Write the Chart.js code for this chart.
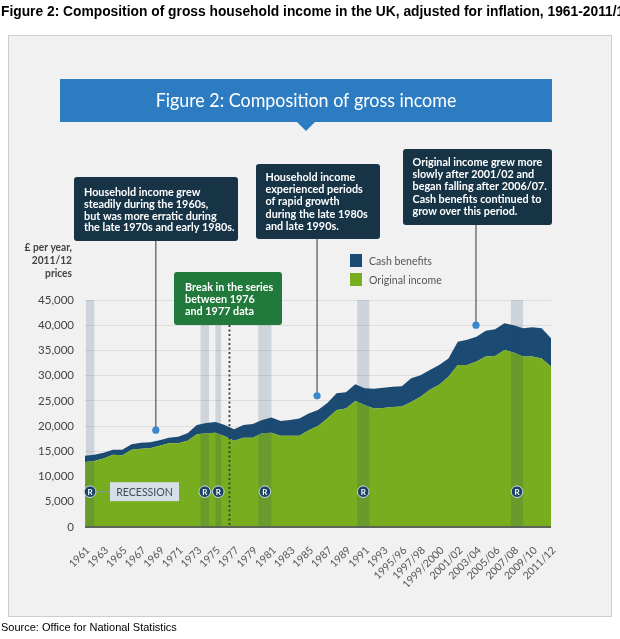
<!DOCTYPE html>
<html>
<head>
<meta charset="utf-8">
<script src="https://cdn.jsdelivr.net/npm/chart.js@4/dist/chart.umd.min.js"></script>
<style>
    body { margin: 0; background: #fff; }
    #wrap { position: relative; width: 620px; height: 639px; overflow: hidden; }
    #wrap canvas { position: absolute; left: 0; top: 0; }
    .page-title {
        position: absolute; left: 1px; top: 4px; white-space: nowrap;
        font: bold 13.8px "Liberation Sans", Arial, sans-serif; color: #000;
    }
    .page-source {
        position: absolute; left: 1px; top: 621px; white-space: nowrap;
        font: 11px "Liberation Sans", Arial, sans-serif; color: #000;
    }
</style>
</head>
<body>
<div id="wrap">
    <canvas id="income-chart"></canvas>
    <div class="page-title">Figure 2: Composition of gross household income in the UK, adjusted for inflation, 1961-2011/12</div>
    <div class="page-source">Source: Office for National Statistics</div>
</div>
<script>
// Years: calendar years to 1993, financial years after that
const years = [
    '1961', '1962', '1963', '1964', '1965', '1966', '1967', '1968', '1969', '1970',
    '1971', '1972', '1973', '1974', '1975', '1976', '1977', '1978', '1979', '1980',
    '1981', '1982', '1983', '1984', '1985', '1986', '1987', '1988', '1989', '1990',
    '1991', '1992', '1993', '1994/95', '1995/96', '1996/97', '1997/98', '1998/99',
    '1999/2000', '2000/01', '2001/02', '2002/03', '2003/04', '2004/05', '2005/06',
    '2006/07', '2007/08', '2008/09', '2009/10', '2010/11', '2011/12',
];

// £ per year, 2011/12 prices
const originalIncome = [
    12900, 13100, 13600, 14300, 14200, 15300, 15500, 15600, 16100, 16600,
    16600, 17100, 18400, 18600, 18700, 18000, 17100, 17700, 17700, 18600,
    18700, 18100, 18100, 18100, 19200, 20000, 21500, 23200, 23500, 25000,
    24200, 23500, 23600, 23800, 23900, 24800, 25800, 27200, 28200, 29800,
    32100, 32100, 32800, 33800, 33900, 35100, 34600, 33800, 33800, 33400, 31800,
];
const cashBenefits = [
    1200, 1200, 1100, 1000, 1100, 1100, 1200, 1200, 1100, 1100,
    1300, 1500, 1800, 2000, 2100, 2200, 2300, 2500, 2700, 2600,
    3000, 2900, 3100, 3400, 3300, 3200, 3100, 3300, 3200, 3300,
    3300, 3900, 4000, 4000, 4000, 4700, 4300, 3900, 3900, 3600,
    4600, 5000, 4900, 5100, 5300, 5300, 5400, 5600, 5800, 6000, 5600,
];

// recessions as [start, end] positions on the year axis
const recessionSpans = [[0.1, 1.0], [12.4, 13.3], [14.0, 14.6], [18.6, 20.0], [29.2, 30.5], [45.7, 47.0]];
const yTicks = [0, 5000, 10000, 15000, 20000, 25000, 30000, 35000, 40000, 45000];

const GREEN = '#78ad1f';
const NAVY = '#1b4b72';
const BOX = '#173447';
const FONT = 'Lato, "Open Sans", sans-serif';

// draw text squeezed horizontally (the original uses a narrow face)
function squeezeText(ctx, text, x, y, sx, align) {
    ctx.save();
    ctx.translate(x, y);
    ctx.scale(sx, 1);
    ctx.textAlign = align || 'left';
    ctx.fillText(text, 0, 0);
    ctx.restore();
}

function noteBox(ctx, x, y, w, h, fill, lines, tx, ty, step) {
    ctx.fillStyle = fill;
    ctx.beginPath();
    ctx.roundRect(x, y, w, h, 3);
    ctx.fill();
    ctx.fillStyle = '#fff';
    ctx.font = 'bold 11.5px ' + FONT;
    ctx.textBaseline = 'middle';
    lines.forEach((line, i) => squeezeText(ctx, line, tx, ty + i * step, 0.94));
}

const backdrop = {
    id: 'backdrop',
    beforeDraw(chart) {
        const ctx = chart.ctx;
        ctx.save();
        ctx.fillStyle = '#fff';
        ctx.fillRect(0, 0, chart.width, chart.height);
        ctx.fillStyle = '#f1f1f1';
        ctx.fillRect(8, 35, 604, 582);
        ctx.strokeStyle = '#cdcdcd';
        ctx.lineWidth = 1;
        ctx.strokeRect(8.5, 35.5, 603, 581);
        ctx.restore();
    },
};

const overlays = {
    id: 'overlays',
    afterDatasetsDraw(chart) {
        const ctx = chart.ctx;
        const xs = chart.scales.x;
        const ys = chart.scales.y;
        const area = chart.chartArea;
        ctx.save();

        // recession bands
        ctx.fillStyle = 'rgba(30, 70, 110, 0.17)';
        recessionSpans.forEach(([a, b]) => {
            const x0 = xs.getPixelForValue(a);
            const x1 = xs.getPixelForValue(b);
            ctx.fillRect(x0, area.top, x1 - x0, area.bottom - area.top);
        });

        // baseline
        ctx.strokeStyle = '#5d6656';
        ctx.lineWidth = 2;
        ctx.beginPath();
        ctx.moveTo(area.left, area.bottom);
        ctx.lineTo(area.right, area.bottom);
        ctx.stroke();

        // break in series 1976 / 1977
        const bx = xs.getPixelForValue(15.5);
        ctx.strokeStyle = '#3b3b3b';
        ctx.lineWidth = 1.8;
        ctx.setLineDash([2, 2.5]);
        ctx.beginPath();
        ctx.moveTo(bx, 325);
        ctx.lineTo(bx, area.bottom);
        ctx.stroke();
        ctx.setLineDash([]);

        // R markers
        const ry = ys.getPixelForValue(7000);
        recessionSpans.forEach(([a, b], i) => {
            const cx = xs.getPixelForValue((a + b) / 2);
            if (i === 0) {
                ctx.strokeStyle = '#8a97a2';
                ctx.lineWidth = 1;
                ctx.beginPath();
                ctx.moveTo(cx, ry);
                ctx.lineTo(110, ry);
                ctx.stroke();
            }
            ctx.fillStyle = '#1b4163';
            ctx.strokeStyle = '#c9dbe6';
            ctx.lineWidth = 1;
            ctx.beginPath();
            ctx.arc(cx, ry, 5.8, 0, Math.PI * 2);
            ctx.fill();
            ctx.stroke();
            ctx.fillStyle = '#fff';
            ctx.font = 'bold 8px ' + FONT;
            ctx.textAlign = 'center';
            ctx.textBaseline = 'middle';
            ctx.fillText('R', cx, ry + 0.5);
        });
        ctx.fillStyle = '#d6dfe7';
        ctx.fillRect(110, ry - 9.5, 69, 19);
        ctx.fillStyle = '#3e4c58';
        ctx.font = '11.5px ' + FONT;
        ctx.textBaseline = 'middle';
        squeezeText(ctx, 'RECESSION', 144.5, ry + 0.5, 0.92, 'center');

        // leader lines and dots
        const leaders = [[7.6, 19200, 241], [24.9, 26000, 239], [41.95, 40000, 225]];
        leaders.forEach(([xi, v, top]) => {
            const px = xs.getPixelForValue(xi);
            const py = ys.getPixelForValue(v);
            ctx.strokeStyle = '#555';
            ctx.lineWidth = 1.2;
            ctx.beginPath();
            ctx.moveTo(px, top);
            ctx.lineTo(px, py);
            ctx.stroke();
            ctx.fillStyle = '#3a87c9';
            ctx.beginPath();
            ctx.arc(px, py, 3.6, 0, Math.PI * 2);
            ctx.fill();
        });
        ctx.restore();
    },
    afterDraw(chart) {
        const ctx = chart.ctx;
        ctx.save();

        // header banner
        ctx.fillStyle = '#2d7cc1';
        ctx.fillRect(60, 79, 492, 43);
        ctx.beginPath();
        ctx.moveTo(297, 122);
        ctx.lineTo(315, 122);
        ctx.lineTo(306, 131);
        ctx.closePath();
        ctx.fill();
        ctx.fillStyle = '#fff';
        ctx.font = '19px ' + FONT;
        ctx.textBaseline = 'middle';
        squeezeText(ctx, 'Figure 2: Composition of gross income', 306, 101, 0.94, 'center');

        // annotations
        noteBox(ctx, 74, 177, 164, 64, BOX, [
            'Household income grew',
            'steadily during the 1960s,',
            'but was more erratic during',
            'the late 1970s and early 1980s.',
        ], 84, 192, 11.9);
        noteBox(ctx, 256, 164, 124, 75, BOX, [
            'Household income',
            'experienced periods',
            'of rapid growth',
            'during the late 1980s',
            'and late 1990s.',
        ], 265.5, 177, 12.3);
        noteBox(ctx, 403, 149, 149, 76, BOX, [
            'Original income grew more',
            'slowly after 2001/02 and',
            'began falling after 2006/07.',
            'Cash benefits continued to',
            'grow over this period.',
        ], 412.5, 162.5, 12.1);
        noteBox(ctx, 174, 272, 108, 53, '#217a3c', [
            'Break in the series',
            'between 1976',
            'and 1977 data',
        ], 185, 287, 12.2);

        // legend
        const sets = chart.data.datasets;
        [[sets[1], 254], [sets[0], 273]].forEach(([ds, y]) => {
            ctx.fillStyle = ds.backgroundColor;
            ctx.fillRect(350, y, 12, 13);
            ctx.fillStyle = '#555';
            ctx.font = '11.5px ' + FONT;
            ctx.textBaseline = 'middle';
            squeezeText(ctx, ds.label, 369, y + 7, 0.92);
        });

        // y axis title
        ctx.fillStyle = '#444';
        ctx.font = 'bold 10.5px ' + FONT;
        ctx.textBaseline = 'middle';
        ['£ per year,', '2011/12', 'prices'].forEach((t, i) => {
            squeezeText(ctx, t, 72, 248 + i * 13, 0.97, 'right');
        });
        ctx.restore();
    },
};

const ctx = document.getElementById('income-chart').getContext('2d');
new Chart(ctx, {
    type: 'line',
    data: {
        labels: years,
        datasets: [
            {
                label: 'Original income',
                data: originalIncome,
                backgroundColor: GREEN,
                borderWidth: 0,
                pointRadius: 0,
                fill: 'origin',
            },
            {
                label: 'Cash benefits',
                data: cashBenefits,
                backgroundColor: NAVY,
                borderWidth: 0,
                pointRadius: 0,
                fill: '-1',
            },
        ],
    },
    options: {
        responsive: true,
        maintainAspectRatio: false,
        animation: false,
        layout: {
            padding: { left: 0, top: 300, right: 69, bottom: 52 },
        },
        plugins: {
            legend: { display: false },
            tooltip: { enabled: false },
        },
        scales: {
            x: {
                grid: { display: false },
                border: { display: false },
                afterFit: (scale) => { scale.height = 60; },
                ticks: {
                    autoSkip: false,
                    minRotation: 45,
                    maxRotation: 45,
                    padding: 9,
                    labelOffset: 3,
                    color: '#555',
                    font: { family: FONT, size: 10.5 },
                    callback: (v, i) => (i % 2 === 0 ? years[i] : ''),
                },
            },
            y: {
                stacked: true,
                min: 0,
                max: 45000,
                afterFit: (scale) => { scale.width = 85; },
                afterBuildTicks: (scale) => { scale.ticks = yTicks.map((v) => ({ value: v })); },
                grid: { color: '#dedede', drawTicks: false },
                border: { display: false },
                ticks: {
                    padding: 11,
                    color: '#444',
                    font: { family: FONT, size: 11.5 },
                    callback: (v) => v.toLocaleString('en-GB'),
                },
            },
        },
    },
    plugins: [backdrop, overlays],
});
</script>
</body>
</html>
